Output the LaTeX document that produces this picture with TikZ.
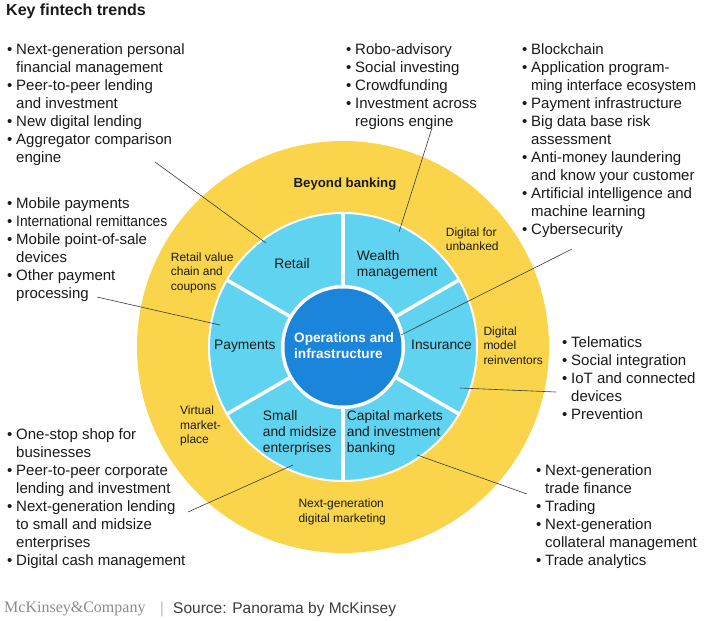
\documentclass[tikz,border=0pt]{standalone}
\usepackage{graphicx}
\usepackage{fontspec}
\setmainfont{Liberation Sans}
\newfontfamily\serifmk{Liberation Serif}
\definecolor{ringyellow}{HTML}{FAD54B}
\definecolor{segblue}{HTML}{60D3F0}
\definecolor{coreblue}{HTML}{1B84DB}
\definecolor{txt}{HTML}{1A1A1A}
\definecolor{leader}{HTML}{3A3A3A}
\definecolor{mkgray}{HTML}{8C8C8C}
\newcommand{\bul}{\makebox[9pt][l]{\textbullet}}
\newcommand{\ind}{\hspace*{9pt}}
\newcommand{\stb}{\rule{0pt}{12pt}}
\newcommand{\sts}{\rule{0pt}{11pt}}
\newcommand{\str}{\rule{0pt}{10pt}}
\tikzset{
  blist/.style={anchor=north west, inner sep=0pt, align=left, font=\fontsize{15}{18}\selectfont, text=txt},
  seglabel/.style={anchor=north west, inner sep=0pt, align=left, font=\fontsize{13.8}{16}\selectfont, text=txt},
  ringlabel/.style={anchor=north west, inner sep=0pt, align=left, font=\fontsize{12}{14.5}\selectfont, text=txt},
  leaderline/.style={draw=leader, line width=0.6pt},
}
\begin{document}
\begin{tikzpicture}[x=1pt,y=-1pt]
\useasboundingbox (0,0) rectangle (705,621);
\fill[white] (0,0) rectangle (705,621);

% title
\node[anchor=base west, inner sep=0pt, font=\bfseries\fontsize{16}{18}\selectfont, text=txt] (title) at (6,16) {Key fintech trends};

% rings
\coordinate (C) at (343,347);
\fill[ringyellow] (C) circle (206pt);
\fill[segblue, draw=white, line width=2pt] (C) circle (134pt);
\fill[white] (C) circle (62pt);
\fill[coreblue] (C) circle (58.5pt);
\begin{scope}[shift={(C)}]
\foreach \a in {30,90,150,210,270,330}
  \draw[white, line width=3.5pt] (\a:60) -- (\a:135);
\end{scope}

% ring labels
\node[font=\bfseries\fontsize{13.2}{15}\selectfont, text=txt, anchor=base, inner sep=0pt] (beyond) at (345,187.5) {Beyond banking};
\node[ringlabel] (rvcc) at (170.7,251) {\str Retail value\\chain and\\coupons};
\node[ringlabel] (dfu) at (445.7,226) {\str Digital for\\unbanked};
\node[ringlabel] (dmr) at (483.3,325) {\str Digital\\model\\reinventors};
\node[ringlabel] (vmp) at (180,404.3) {\str Virtual\\market-\\place};
\node[ringlabel] (ngdm) at (298.3,497.6) {\str Next-generation\\digital marketing};

% segment labels
\node[font=\fontsize{13.8}{16}\selectfont, text=txt, anchor=base, inner sep=0pt] (retail) at (292,268) {Retail};
\node[seglabel] (wealth) at (356.7,249) {\sts Wealth\\management};
\node[font=\fontsize{13.8}{16}\selectfont, text=txt, anchor=base west, inner sep=0pt] (payments) at (214,349) {Payments};
\node[font=\fontsize{13.8}{16}\selectfont, text=txt, anchor=base west, inner sep=0pt] (insurance) at (411,349) {Insurance};
\node[seglabel] (sme) at (262.7,409) {\sts Small\\and midsize\\enterprises};
\node[seglabel] (capital) at (346.7,409) {\sts Capital markets\\and investment\\banking};
\node[anchor=north west, inner sep=0pt, align=left, font=\bfseries\fontsize{13.6}{16}\selectfont, text=white] (ops) at (294,331.3) {\sts Operations and\\infrastructure};

% bullet lists
\node[blist] (listRetail) at (7,42.5) {\stb\bul Next-generation personal\\\ind financial management\\\bul Peer-to-peer lending\\\ind and investment\\\bul New digital lending\\\bul Aggregator comparison\\\ind engine};
\node[blist] (listWealth) at (346,42.5) {\stb\bul Robo-advisory\\\bul Social investing\\\bul Crowdfunding\\\bul Investment across\\\ind regions engine};
\node[blist] (listOps) at (522,42.5) {\stb\bul Blockchain\\\bul Application program-\\\ind \scalebox{0.97}[1]{ming interface ecosystem}\\\bul Payment infrastructure\\\bul Big data base risk\\\ind assessment\\\bul Anti-money laundering\\\ind and know your customer\\\bul Artificial intelligence and\\\ind machine learning\\\bul Cybersecurity};
\node[blist] (listPay) at (7,196.5) {\stb\bul Mobile payments\\\bul \scalebox{0.92}[1]{International remittances}\\\bul Mobile point-of-sale\\\ind devices\\\bul Other payment\\\ind processing};
\node[blist] (listSME) at (7,426.8) {\stb\bul One-stop shop for\\\ind businesses\\\bul Peer-to-peer corporate\\\ind lending and investment\\\bul Next-generation lending\\\ind to small and midsize\\\ind enterprises\\\bul Digital cash management};
\node[blist] (listIns) at (562,335.2) {\stb\bul Telematics\\\bul Social integration\\\bul IoT and connected\\\ind devices\\\bul Prevention};
\node[blist] (listCap) at (536,463.5) {\stb\bul Next-generation\\\ind trade finance\\\bul Trading\\\bul Next-generation\\\ind collateral management\\\bul Trade analytics};

% leader lines
\coordinate (tRetail) at (155,162);  \coordinate (pRetail) at (266,243);
\coordinate (tWealth) at (432,128);  \coordinate (pWealth) at (399,232);
\coordinate (tOps) at (572,249);     \coordinate (pOps) at (401,335);
\coordinate (tPay) at (97,297);      \coordinate (pPay) at (220,325);
\coordinate (tSME) at (188,512);     \coordinate (pSME) at (293,465);
\coordinate (tCap) at (527,494);     \coordinate (pCap) at (417,455);
\coordinate (tIns) at (556,392);     \coordinate (pIns) at (460,388);
\draw[leaderline] (tRetail) -- (pRetail);
\draw[leaderline] (tWealth) -- (pWealth);
\draw[leaderline] (tOps) -- (pOps);
\draw[leaderline] (tPay) -- (pPay);
\draw[leaderline] (tSME) -- (pSME);
\draw[leaderline] (tCap) -- (pCap);
\draw[leaderline] (tIns) -- (pIns);

% footer
\node[anchor=base west, inner sep=0pt, font=\serifmk\fontsize{16}{18}\selectfont, text=mkgray] (logo) at (4,612) {McKinsey\&Company};
\node[anchor=base, inner sep=0pt, font=\fontsize{16}{18}\selectfont, text=black!25] (sep) at (162,613) {|};
\node[anchor=base west, inner sep=0pt, font=\fontsize{15.5}{18}\selectfont, text=txt!85] (source) at (173,613) {Source: Panorama by McKinsey};
\end{tikzpicture}
\end{document}
